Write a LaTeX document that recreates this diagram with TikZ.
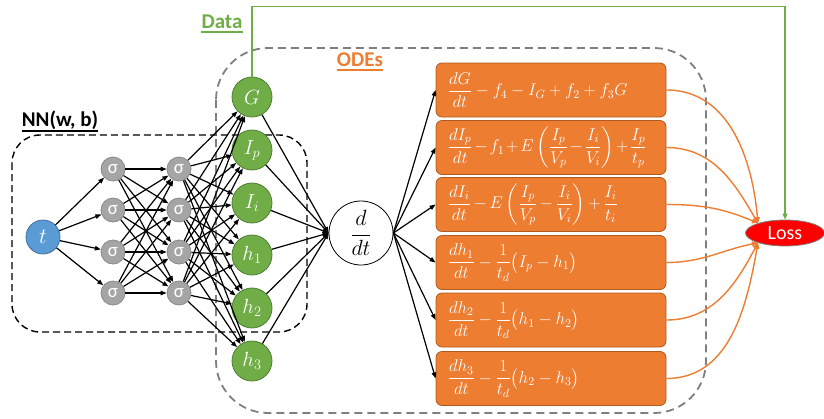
\RequirePackage{fix-cm}
\documentclass[tikz,border=0pt]{standalone}
\usepackage[no-math]{fontspec}
\setmainfont{Carlito}
\usepackage{amsmath}
\usetikzlibrary{arrows.meta,shapes.geometric}

\definecolor{nblue}{HTML}{5B9BD5}
\definecolor{nblueD}{HTML}{41719C}
\definecolor{ngray}{HTML}{A5A5A5}
\definecolor{ngrayD}{HTML}{8A8A8A}
\definecolor{ngreen}{HTML}{70AD47}
\definecolor{ngreenD}{HTML}{507E32}
\definecolor{norange}{HTML}{ED7D31}
\definecolor{norangeD}{HTML}{AE5A21}
\definecolor{dashgray}{HTML}{7F7F7F}

\tikzset{
  neuron/.style={circle, draw, line width=0.8pt, inner sep=0pt},
  inp/.style={neuron, fill=nblue, draw=nblueD, minimum size=34pt, text=white,
    font=\fontsize{22}{26}\selectfont},
  sig/.style={neuron, fill=ngray, draw=ngrayD, minimum size=24pt, text=white,
    font=\fontsize{19}{22}\selectfont},
  outv/.style={neuron, fill=ngreen, draw=ngreenD, minimum size=40pt, text=white,
    font=\fontsize{20.5}{24}\selectfont},
  deriv/.style={circle, draw=black, line width=0.8pt, fill=white, minimum size=64pt,
    inner sep=0pt, font=\fontsize{22}{26}\selectfont},
  odebox/.style={rectangle, rounded corners=6pt, fill=norange, draw=norangeD,
    line width=0.8pt, minimum height=54pt, minimum width=230pt, inner sep=0pt},
  eqtext/.style={anchor=west, inner sep=0pt, text=white,
    font=\fontsize{17}{20}\selectfont},
  lossnode/.style={ellipse, fill=red, draw=dashgray, line width=0.8pt,
    minimum width=79pt, minimum height=26pt, inner sep=0pt, text=white,
    font=\fontsize{20}{24}\selectfont},
  arr/.style={-{Triangle[length=6pt,width=4.5pt]}, line width=1.2pt},
  lossarr/.style={-{Triangle[length=6pt,width=5pt]}, line width=1.4pt, draw=norange},
  dataarr/.style={-{Triangle[length=6pt,width=5pt]}, line width=1.5pt, draw=ngreen},
  nnframe/.style={draw=black, dashed, dash pattern=on 7pt off 4pt, line width=1.4pt,
    rounded corners=28pt},
  odeframe/.style={draw=dashgray, dash pattern=on 8pt off 5pt, line width=1.8pt,
    rounded corners=52pt},
  caption/.style={inner sep=0pt, anchor=base, font=\fontsize{21}{25}\selectfont\bfseries},
}

\begin{document}
\begin{tikzpicture}[x=1pt,y=-1pt]
\useasboundingbox (0,0) rectangle (824,418);

% dashed frames
\draw[odeframe] (216,48) rectangle (706,413);
\draw[nnframe] (12,135) rectangle (307,332);

% captions
\node[caption, text=ngreen] (data) at (222,28) {Data};
\node[caption, text=norange] (odes) at (360,66) {ODEs};
\node[caption, text=black] (nn) at (60,126) {NN(w, b)};
\draw[ngreen, line width=1.5pt] ([yshift=-4pt]data.base west) -- ([yshift=-4pt]data.base east);
\draw[norange, line width=1.5pt] ([yshift=-4pt]odes.base west) -- ([yshift=-4pt]odes.base east);
\draw[black, line width=1.5pt] ([yshift=-5pt]nn.base west) -- ([yshift=-5pt]nn.base east);

% network
\node[inp] (t) at (43,237) {$t$};
\foreach \y [count=\i] in {169,210,252,293} {
  \node[sig] (a\i) at (113,\y) {σ};
  \node[sig] (b\i) at (179,\y) {σ};
}
\node[outv] (g1) at (252,97) {$G$};
\node[outv] (g2) at (252,150) {$I_p$};
\node[outv] (g3) at (252,203) {$I_i$};
\node[outv] (g4) at (252,255) {$h_1$};
\node[outv] (g5) at (252,308) {$h_2$};
\node[outv] (g6) at (252,361) {$h_3$};

\node[deriv] (ddt) at (361,233) {$\dfrac{d}{dt}$};

% equation boxes
\foreach \y [count=\i] in {90,147.5,204.5,262.5,320,378.5} {
  \node[odebox] (ode\i) at (551,\y) {};
}
\node[eqtext] (eq1) at ([xshift=12pt]ode1.west) {$\dfrac{dG}{dt} - f_4 - I_G + f_2 + f_3G$};
\node[eqtext] (eq2) at ([xshift=12pt]ode2.west) {\medmuskip=2mu $\dfrac{dI_p}{dt} - f_1 + E\left(\dfrac{I_p}{V_p} - \dfrac{I_i}{V_i}\right) + \dfrac{I_p}{t_p}$};
\node[eqtext] (eq3) at ([xshift=12pt]ode3.west) {\medmuskip=3mu $\dfrac{dI_i}{dt} - E\left(\dfrac{I_p}{V_p} - \dfrac{I_i}{V_i}\right) + \dfrac{I_i}{t_i}$};
\node[eqtext] (eq4) at ([xshift=12pt]ode4.west) {$\dfrac{dh_1}{dt} - \dfrac{1}{t_d}\big(I_p - h_1\big)$};
\node[eqtext] (eq5) at ([xshift=12pt]ode5.west) {$\dfrac{dh_2}{dt} - \dfrac{1}{t_d}\big(h_1 - h_2\big)$};
\node[eqtext] (eq6) at ([xshift=12pt]ode6.west) {$\dfrac{dh_3}{dt} - \dfrac{1}{t_d}\big(h_2 - h_3\big)$};

\node[lossnode] (loss) at (785,233) {Loss};

% connections
\foreach \i in {1,...,4} {
  \draw[arr] (t) -- (a\i);
  \foreach \j in {1,...,4} { \draw[arr] (a\i) -- (b\j); }
  \foreach \j in {1,...,6} { \draw[arr] (b\i) -- (g\j); }
}
\foreach \i in {1,...,6} {
  \draw[arr] (g\i) -- (ddt.west);
  \draw[arr] (ddt.east) -- (ode\i.west);
}

% residuals into the loss
\draw[lossarr] (ode1.east) to[out=0, in=95] (loss.160);
\draw[lossarr] (ode2.east) to[out=0, in=120] (loss.160);
\draw[lossarr] (ode3.east) to[out=0, in=157] (loss.160);
\draw[lossarr] (ode4.east) to[out=0, in=191] (loss.200);
\draw[lossarr] (ode5.east) to[out=0, in=242] (loss.200);
\draw[lossarr] (ode6.east) to[out=0, in=260] (loss.200);

% data term
\draw[dataarr] (g1.north) -- ++(0,-70) -| (loss.north);
\end{tikzpicture}
\end{document}
